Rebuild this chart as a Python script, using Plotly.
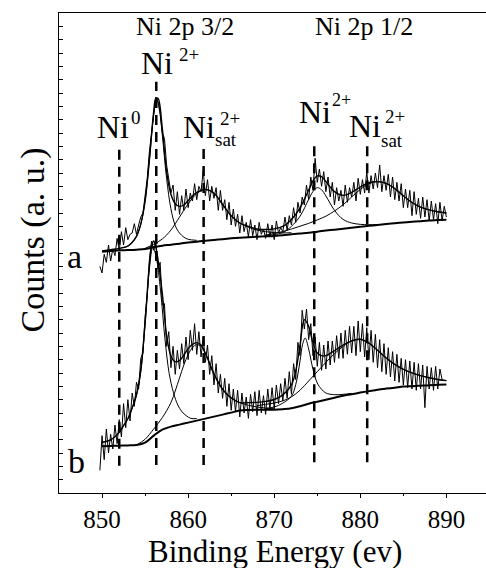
import numpy as np
import plotly.graph_objects as go

FONT = "Liberation Serif"

# ---------------- data ----------------
energy = np.round(np.arange(849.75, 890.01, 0.25), 2)  # instrument grid (eV)

counts_a = [
    17.0, 16.5, 17.9, 17.3, 18.6, 17.4, 18.3, 17.8,
    19.1, 18.2, 19.6, 18.6, 19.9, 19.0, 19.4, 19.5,
    20.2, 19.4, 20.1, 20.7, 21.0, 22.4, 23.6, 25.6,
    27.0, 28.4, 29.7, 29.3, 28.4, 27.0, 26.6, 24.6,
    23.6, 22.5, 23.1, 21.2, 22.6, 20.9, 22.3, 21.2,
    22.8, 21.4, 22.5, 21.9, 23.2, 22.0, 23.0, 22.6,
    24.2, 22.3, 23.5, 21.9, 23.0, 22.1, 22.9, 21.2,
    22.7, 21.2, 22.0, 20.5, 21.8, 20.1, 21.3, 20.0,
    20.9, 19.5, 20.8, 19.6, 20.3, 19.2, 20.5, 19.3,
    20.1, 19.0, 20.3, 19.4, 19.8, 19.1, 20.2, 19.2,
    20.1, 19.0, 20.4, 19.5, 19.9, 19.6, 20.7, 19.7,
    20.8, 20.1, 21.4, 20.3, 21.8, 21.0, 22.2, 21.6,
    23.1, 22.0, 23.7, 22.7, 25.1, 23.3, 24.3, 23.0,
    24.1, 22.6, 23.7, 22.2, 23.3, 21.6, 22.9, 21.9,
    22.7, 21.5, 23.1, 21.8, 22.9, 22.2, 23.3, 21.9,
    23.6, 22.4, 23.5, 22.5, 24.1, 22.5, 23.8, 22.8,
    24.0, 22.9, 24.6, 22.6, 23.8, 22.7, 23.9, 22.2,
    23.7, 22.0, 23.3, 21.9, 23.2, 21.4, 22.8, 21.4,
    22.7, 20.8, 22.6, 20.9, 22.1, 20.6, 22.2, 20.7,
    22.0, 20.4, 21.9, 20.5, 21.7, 20.2, 21.8, 20.4,
    21.5, 20.7,
]

counts_b = [
    1.7, 4.3, 2.5, 4.8, 3.0, 4.4, 3.3, 5.1,
    3.7, 5.5, 4.2, 6.7, 4.9, 7.0, 5.4, 7.5,
    6.5, 8.3, 7.8, 10.1, 10.5, 13.2, 14.9, 17.5,
    18.9, 18.2, 18.9, 16.8, 17.3, 14.1, 14.2, 11.0,
    12.1, 9.4, 11.0, 8.9, 10.7, 9.3, 11.2, 9.7,
    11.7, 10.0, 12.2, 10.7, 12.7, 10.4, 12.1, 10.2,
    11.7, 9.8, 11.1, 8.9, 10.3, 8.1, 9.7, 7.5,
    8.9, 7.1, 8.6, 6.5, 8.2, 6.2, 7.8, 6.1,
    7.7, 5.7, 7.5, 6.0, 7.2, 5.6, 7.4, 6.1,
    7.6, 5.8, 7.7, 6.0, 7.3, 5.9, 7.8, 6.3,
    7.9, 6.3, 8.1, 6.7, 8.2, 6.9, 8.6, 7.1,
    9.1, 7.4, 9.7, 8.5, 11.3, 10.3, 13.7, 12.3,
    13.8, 11.5, 12.7, 10.3, 11.7, 9.5, 11.3, 9.2,
    11.1, 9.3, 11.4, 9.6, 11.4, 9.8, 11.8, 10.1,
    12.0, 10.1, 12.2, 10.4, 12.5, 10.5, 12.5, 10.3,
    12.9, 10.6, 12.7, 10.2, 12.4, 10.0, 12.2, 9.8,
    11.9, 9.4, 11.5, 9.1, 11.2, 8.9, 10.9, 8.7,
    10.6, 8.4, 10.4, 8.3, 10.1, 8.1, 10.0, 7.9,
    9.9, 7.8, 9.8, 7.7, 9.7, 7.8, 9.6, 6.4,
    9.5, 7.8, 9.4, 7.7, 9.5, 7.8, 9.3, 8.5,
]

# background (1 eV steps, 850..890)
bg_e = list(range(850, 891))
bg_a = [18.10, 18.15, 18.20, 18.22, 18.25, 18.30, 18.45, 18.55, 18.62, 18.70,
        18.78, 18.85, 18.92, 18.98, 19.04, 19.10, 19.15, 19.19, 19.22, 19.25,
        19.28, 19.33, 19.40, 19.46, 19.52, 19.60, 19.68, 19.75, 19.82, 19.90,
        19.97, 20.04, 20.10, 20.17, 20.23, 20.29, 20.34, 20.39, 20.43, 20.47, 20.50]
bg_b = [3.51, 3.53, 3.55, 3.57, 3.60, 3.78, 4.30, 4.75, 4.98, 5.13,
        5.28, 5.43, 5.58, 5.73, 5.88, 6.03, 6.18, 6.23, 6.25, 6.25,
        6.25, 6.29, 6.36, 6.51, 6.70, 6.85, 7.00, 7.15, 7.30, 7.41,
        7.53, 7.64, 7.75, 7.83, 7.90, 7.98, 8.01, 8.05, 8.09, 8.11, 8.13]

# fitted envelopes
env_a_e = [850, 851, 852, 853, 853.5, 854, 854.5, 855, 855.5, 856, 856.25, 856.5, 857, 857.5,
           858, 858.5, 859, 859.5, 860, 861, 862, 863, 864, 865, 866, 867, 868, 869, 870,
           871, 872, 873, 874, 874.5, 875, 875.5, 876, 877, 878, 879, 880, 881, 882, 883,
           884, 885, 886, 887, 888, 889, 890]
env_a = [18.15, 18.25, 18.35, 18.52, 18.8, 19.25, 20.17, 21.9, 25.0, 28.6, 29.6, 29.6, 27.35, 24.1,
         22.4, 21.7, 21.5, 21.6, 21.93, 22.55, 22.77, 22.48, 21.64, 20.8, 20.25, 19.99, 19.8, 19.76, 19.81,
         19.99, 20.52, 21.39, 22.72, 23.4, 23.78, 23.72, 23.36, 22.6, 22.32, 22.55, 22.95, 23.27, 23.35, 23.22,
         22.83, 22.29, 21.79, 21.44, 21.23, 21.09, 21.0]

env_b_e = [850, 851, 852, 852.5, 853, 853.5, 854, 854.5, 855, 855.5, 855.75, 856, 856.25, 856.5, 857,
           857.5, 858, 858.5, 859, 859.5, 860, 860.5, 861, 861.5, 862, 863, 864, 865, 866, 867,
           868, 869, 870, 871, 872, 872.5, 873, 873.5, 874, 874.5, 875, 875.5, 876, 877, 878,
           879, 880, 881, 882, 883, 884, 885, 886, 887, 888, 889, 890]
env_b = [3.8, 3.98, 4.55, 5.06, 5.57, 6.38, 7.4, 9.23, 12.83, 17.15, 18.5, 18.9, 18.42, 17.53, 14.95,
         11.81, 10.28, 9.85, 9.93, 10.35, 10.83, 11.15, 11.28, 11.1, 10.48, 8.93, 7.78, 7.13, 6.78, 6.78,
         6.8, 6.87, 7.01, 7.36, 8.11, 9.15, 11.11, 13.0, 12.5, 11.25, 10.5, 10.3, 10.3, 10.67, 11.1,
         11.41, 11.53, 11.24, 10.7, 10.13, 9.65, 9.28, 9.01, 8.8, 8.64, 8.51, 8.43]

# fitted components (background included)
comp_a = {
    "Ni2+ 2p3/2": ([852.5, 853, 853.5, 854, 854.5, 855, 855.5, 856, 856.3, 856.6, 857, 857.5, 858, 858.5, 859, 859.5, 860, 861],
                   [18.41, 18.52, 18.8, 19.25, 20.17, 21.9, 24.97, 28.45, 29.6, 29.1, 26.85, 23.58, 21.32, 20.06, 19.5, 19.19, 19.03, 18.95]),
    "sat 2p3/2": ([855, 856, 857, 858, 859, 860, 861, 862, 863, 864, 865, 866, 867, 868, 869, 870, 871, 872],
                  [18.35, 18.65, 19.05, 19.72, 20.7, 21.68, 22.45, 22.77, 22.48, 21.64, 20.8, 20.25, 19.94, 19.72, 19.6, 19.53, 19.51, 19.52]),
    "Ni2+ 2p1/2": ([869, 870, 871, 872, 873, 874, 874.5, 875, 875.5, 876, 877, 878, 879, 880, 881, 882],
                   [19.3, 19.38, 19.53, 20.0, 20.76, 22.02, 22.61, 22.9, 22.74, 22.28, 21.2, 20.52, 20.25, 20.15, 20.12, 20.14]),
    "sat 2p1/2": ([869, 870, 871, 872, 873, 874, 875, 876, 877, 878, 879, 880, 881, 882, 883, 884, 885, 886, 887, 888, 889, 890],
                  [19.35, 19.46, 19.61, 19.8, 20.01, 20.22, 20.48, 20.76, 21.15, 21.62, 22.2, 22.77, 23.19, 23.35, 23.22, 22.83, 22.29, 21.79, 21.44, 21.23, 21.09, 21.0]),
}
comp_b = {
    "Ni2+ 2p3/2": ([850, 851, 852, 852.5, 853, 853.5, 854, 854.5, 855, 855.5, 855.9, 856.3, 856.8, 857.3, 857.8, 858.3, 858.8, 859.3, 859.8, 860.3, 861],
                   [3.81, 3.98, 4.55, 5.06, 5.57, 6.38, 7.3, 9.08, 12.58, 16.8, 18.45, 17.65, 15.16, 11.6, 8.96, 7.52, 6.6, 6.08, 5.79, 5.6, 5.58]),
    "sat 2p3/2": ([854, 855, 856, 857, 858, 858.5, 859, 859.5, 860, 860.5, 861, 861.5, 862, 862.5, 863, 864, 865, 866, 867, 868, 869, 870],
                  [3.6, 4.03, 4.8, 5.65, 6.78, 7.65, 8.63, 9.6, 10.38, 10.9, 11.13, 11.0, 10.48, 9.75, 8.93, 7.78, 7.13, 6.78, 6.58, 6.45, 6.37, 6.31]),
    "Ni2+ 2p1/2": ([869, 870, 871, 872, 872.5, 873, 873.3, 873.6, 874, 874.5, 875, 875.5, 876, 877, 878, 879],
                   [6.35, 6.45, 6.74, 7.26, 8.13, 9.91, 11.16, 11.62, 10.8, 9.28, 8.25, 7.78, 7.5, 7.37, 7.4, 7.47]),
    "sat 2p1/2": ([868, 869, 870, 871, 872, 873, 874, 875, 876, 877, 878, 879, 879.5, 880, 881, 882, 883, 884, 885, 886, 887, 888, 889, 890],
                  [6.55, 6.65, 6.75, 6.91, 7.21, 7.71, 8.4, 9.1, 9.8, 10.45, 11.0, 11.41, 11.52, 11.53, 11.24, 10.7, 10.13, 9.65, 9.28, 9.01, 8.8, 8.64, 8.51, 8.43]),
}

# reference energies (dashed markers) and their vertical extent
peak_positions = [852.0, 856.3, 861.8, 874.65, 880.8]
peak_y_span = [(2.05, 26.1), (2.1, 30.85), (2.1, 26.1), (2.3, 26.3), (2.3, 26.3)]

x_ticks = [850, 860, 870, 880, 890]

# ---------------- figure ----------------
fig = go.Figure()

fig.add_trace(go.Scatter(x=energy, y=counts_a, mode="lines",
                         line=dict(color="black", width=1), showlegend=False))
fig.add_trace(go.Scatter(x=energy[:len(counts_b)], y=counts_b, mode="lines",
                         line=dict(color="black", width=1), showlegend=False))

for comps in (comp_a, comp_b):
    for ex, ey in comps.values():
        fig.add_trace(go.Scatter(x=ex, y=ey, mode="lines", line_shape="spline",
                                 line=dict(color="black", width=1), showlegend=False))

for ex, ey in ((env_a_e, env_a), (env_b_e, env_b)):
    fig.add_trace(go.Scatter(x=ex, y=ey, mode="lines", line_shape="spline",
                             line=dict(color="black", width=1.4), showlegend=False))

for bg in (bg_a, bg_b):
    fig.add_trace(go.Scatter(x=bg_e, y=bg, mode="lines", line_shape="spline",
                             line=dict(color="black", width=2), showlegend=False))

for xp, (y0, y1) in zip(peak_positions, peak_y_span):
    fig.add_shape(type="line", xref="x", yref="y", x0=xp, x1=xp, y0=y0, y1=y1,
                  line=dict(color="black", width=2.5, dash="10px,7px"))

# labels
def lab(text, x, y, size):
    fig.add_annotation(text=text, x=x, y=y, xref="x", yref="y", showarrow=False,
                       xanchor="center", yanchor="middle",
                       font=dict(family=FONT, size=size, color="black"))

lab("Ni 2p 3/2", 859.67, 34.97, 26)
lab("Ni 2p 1/2", 880.47, 34.97, 26)
lab("Ni", 856.36, 32.24, 32); lab("2+", 860.14, 32.87, 19)
lab("Ni", 851.25, 27.47, 32); lab("0", 853.98, 28.19, 19)
lab("Ni", 861.22, 27.47, 32); lab("2+", 864.9, 28.11, 19); lab("sat", 864.44, 26.5, 19)
lab("Ni", 874.78, 28.56, 32); lab("2+", 877.85, 29.45, 18)
lab("Ni", 880.6, 27.55, 32); lab("2+", 884.05, 28.25, 19); lab("sat", 883.7, 26.45, 19)
lab("a", 846.85, 17.75, 34)
lab("b", 847.07, 2.39, 34)

fig.add_annotation(text="Binding Energy (ev)", x=0.506, y=-0.122, xref="paper", yref="paper",
                   xanchor="center", yanchor="middle",
                   showarrow=False, font=dict(family=FONT, size=31, color="black"))
fig.add_annotation(text="Counts (a. u.)", x=-0.061, y=0.528, xref="paper", yref="paper",
                   xanchor="center", yanchor="middle",
                   showarrow=False, textangle=-90, font=dict(family=FONT, size=34, color="black"))

fig.update_layout(
    width=486, height=568,
    margin=dict(l=59, r=0, t=13, b=75),
    paper_bgcolor="white", plot_bgcolor="white",
    xaxis=dict(range=[845, 894.6], tickvals=x_ticks, ticks="outside", ticklen=4,
               tickcolor="black", showline=True, linecolor="black", linewidth=1,
               mirror=True, showgrid=False, zeroline=False,
               tickfont=dict(family=FONT, size=25, color="black"),
               minor=dict(tickvals=[855, 865, 875, 885], ticks="outside", ticklen=2, tickcolor="black")),
    yaxis=dict(range=[0, 36], dtick=1, tick0=0, ticks="inside", ticklen=4, tickcolor="black",
               showticklabels=False, showline=True, linecolor="black", linewidth=1,
               showgrid=False, zeroline=False),
)

fig.write_html("out.html", config={"displayModeBar": False})
